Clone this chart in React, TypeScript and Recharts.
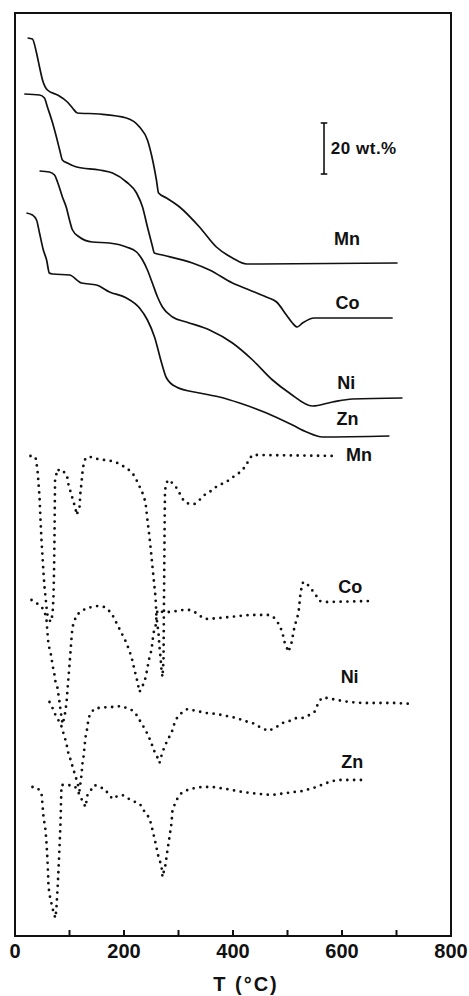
import React from 'react';
import {
  LineChart, Line, XAxis, YAxis, ReferenceArea, ReferenceDot, ReferenceLine,
} from 'recharts';

// temperature ticks (°C)
const tempTicks = [0, 100, 200, 300, 400, 500, 600, 700, 800];

// TG curves: temperature (°C) and vertical position (offset units, curves are stacked)
const mnTgT = [23, 32, 39.5, 45, 50.5, 59.5, 78, 96, 105.5, 114.5, 155, 204.5, 228.5, 243, 252.5, 259.5, 263.5, 278, 302, 338.5, 369.5, 399, 425, 702];
const mnTgV = [898, 897, 883, 869, 856, 846, 841, 834, 828, 823, 822, 818, 809, 796, 776, 756, 743, 738, 729, 709, 689, 678, 672, 673];

const coTgT = [17, 45, 54, 59.5, 69, 76, 82, 87, 96, 113, 155, 179, 204.5, 223, 234, 243, 252.5, 255.5, 270.5, 325.5, 357, 399, 430, 461, 480, 498, 509, 518, 527.5, 549.5, 693];
const coTgV = [842, 841, 838, 829, 813, 799, 786, 776, 773, 769, 766, 763, 754, 743, 729, 709, 689, 683, 681, 673, 666, 653, 646, 639, 634, 621, 613, 609, 613, 618, 618];

const niTgT = [45, 63, 72.5, 78, 87, 94.5, 100, 105.5, 118, 142, 173, 204.5, 223, 234, 243, 252, 261.5, 270.5, 289, 314.5, 357, 399, 436, 472.5, 503.5, 546, 582.5, 619, 711];
const niTgV = [765, 764, 761, 754, 739, 728, 716, 706, 699, 694, 693, 689, 684, 676, 666, 653, 639, 629, 619, 614, 606, 593, 576, 556, 543, 530, 534, 537, 538];

const znTgT = [21, 32, 39.5, 45, 52, 58, 63, 69, 100, 122, 149.5, 173.5, 204.5, 228.5, 243, 256, 269, 278, 296, 338.5, 375, 412, 461.5, 509, 535, 564, 687];
const znTgV = [723, 721, 716, 703, 686, 676, 663, 662, 661, 653, 651, 644, 638, 628, 616, 599, 573, 558, 549, 543, 539, 533, 523, 511, 504, 499, 500];

// DTG curves (dotted)
const mnDtgT = [28.4, 37.6, 39.4, 41.3, 43.1, 45, 46.8, 48.6, 50.5, 52.3, 54.1, 56, 57.8, 59.6, 65.1, 68.8, 70.6, 71.6, 72.4, 73, 73.5, 78, 85.3, 90.8, 96.3, 98.2, 103.7, 107.3, 111, 112.8, 118.3, 120, 122, 123.9, 125.7, 129.4, 140.4, 151.4, 164.2, 177, 188, 204.6, 215.6, 224.8, 233.9, 239.4, 243, 246.8, 250.5, 254.1, 257.8, 259.6, 263.3, 265.1, 267, 268.8, 270.6, 272.5, 273.4, 274.3, 275.2, 280, 289, 298, 305.5, 311, 320, 329.4, 338.5, 347.7, 357, 366, 375, 388, 397, 406.4, 415.6, 424.8, 428.4, 435.8, 448.6, 591.7];
const mnDtgV = [480, 479, 473, 466, 453, 439, 416, 396, 379, 363, 349, 339, 329, 321, 314, 321, 339, 363, 396, 429, 456, 467, 463, 464, 458, 451, 441, 434, 428, 421, 428, 443, 453, 464, 471, 478, 479, 477, 476, 475, 473, 468, 463, 454, 443, 434, 416, 399, 379, 359, 339, 319, 303, 289, 279, 266, 259, 276, 336, 396, 446, 456, 453, 447, 439, 434, 432, 432, 436, 441, 444, 448, 451, 454, 458, 461, 465, 471, 476, 481, 481, 480];

const coDtgT = [30.3, 39.4, 48.6, 54.1, 57.8, 59.6, 61.5, 65.1, 67, 68.8, 72.5, 74.3, 78, 79.8, 81.7, 83.5, 87.2, 90.8, 92.7, 94.5, 96.3, 98.2, 100, 101.8, 103.7, 105.5, 112.8, 131.2, 151.4, 164.2, 177, 186.2, 195.4, 204.6, 213.8, 219.3, 224.8, 228.4, 237.6, 241.3, 246.8, 250.5, 254.1, 257.8, 259.6, 261.5, 270.6, 283.5, 296.3, 307.3, 320.2, 329.4, 338.5, 344, 353.2, 375.2, 393.6, 411.9, 430.3, 467, 476.1, 485.3, 490.8, 494.5, 501.8, 507.3, 512.8, 520.2, 523.9, 527.5, 533, 540.4, 549.5, 558.7, 571.6, 656];
const coDtgV = [336, 333, 329, 325, 316, 303, 291, 284, 278, 271, 261, 254, 248, 241, 234, 226, 212, 219, 226, 233, 246, 259, 271, 284, 298, 309, 321, 328, 330, 329, 323, 313, 303, 293, 279, 266, 254, 244, 254, 263, 279, 286, 303, 309, 319, 326, 324, 324, 325, 326, 326, 324, 321, 318, 317, 318, 319, 320, 321, 321, 318, 311, 303, 294, 284, 293, 309, 323, 343, 353, 354, 349, 343, 335, 334, 335];

const niDtgT = [63.3, 68.8, 72.5, 78, 83.5, 87.2, 90.8, 94.5, 96.3, 100, 103.7, 105.5, 109.2, 114.7, 118.3, 122, 123.9, 125.7, 127.5, 129.4, 133, 134.9, 140.4, 147.7, 158.7, 169.7, 182.6, 195.4, 204.6, 213.8, 223, 228.4, 233.9, 241.3, 245, 250.5, 252.3, 259.6, 265.1, 270.6, 279.8, 287.2, 292.7, 298.2, 307.3, 316.5, 333, 351.4, 369.7, 388, 406.4, 421.1, 435.8, 452.3, 465.1, 479.8, 490.8, 503.7, 516.5, 527.5, 540.4, 549.5, 555, 562.4, 573.4, 589.9, 613.8, 637.6, 663.3, 700, 729.4];
const niDtgV = [234, 228, 223, 217, 213, 206, 199, 193, 186, 179, 174, 169, 163, 153, 145, 161, 173, 179, 189, 199, 209, 218, 224, 228, 228, 229, 229, 230, 228, 226, 221, 216, 211, 204, 199, 194, 188, 181, 173, 184, 196, 203, 213, 219, 224, 227, 225, 223, 222, 220, 218, 215, 213, 208, 205, 209, 213, 215, 218, 218, 221, 224, 231, 238, 238, 236, 234, 233, 233, 233, 232];

const znDtgT = [32.1, 41.3, 48.6, 50.5, 52.3, 56, 57.8, 59.6, 60.6, 61.5, 65.1, 68.8, 70.6, 74.3, 76.1, 78, 79.8, 81.7, 83.5, 84.4, 85.3, 96.3, 109.2, 114.7, 118.3, 123.9, 129.4, 133, 145.9, 155, 164.2, 171.6, 178.9, 188, 197.2, 206.4, 215.6, 226.6, 233.9, 237.6, 246.8, 252.3, 257.8, 263.3, 268.8, 270.6, 276.1, 279.8, 283.5, 287.2, 289, 296.3, 305.5, 320.2, 342.2, 362.4, 388, 417.4, 448.6, 472.5, 498.2, 527.5, 553.2, 571.6, 589.9, 613.8, 637.6];
const znDtgV = [149, 148, 143, 131, 119, 106, 93, 76, 63, 49, 36, 29, 23, 18, 29, 46, 66, 89, 113, 133, 151, 151, 150, 146, 141, 135, 129, 141, 151, 149, 147, 142, 137, 140, 141, 138, 135, 133, 129, 124, 118, 106, 93, 79, 70, 59, 71, 86, 99, 113, 126, 136, 143, 147, 149, 149, 147, 144, 142, 141, 143, 145, 149, 153, 156, 156, 156];

// curve labels
const labelText = ['Mn', 'Co', 'Ni', 'Zn', 'Mn', 'Co', 'Ni', 'Zn'];
const labelT = [609, 610, 608, 610, 631, 615, 614, 619];
const labelV = [697, 633, 553, 517, 481, 349, 259, 174];

// scale bar: 20 wt.%
const barT = 567;
const barBottom = 762;
const barTop = 813;

const rows = (t: number[], v: number[]) => t.map((x, i) => ({ t: x, v: v[i] }));

const tgSeries = [
  { name: 'Mn TG', data: rows(mnTgT, mnTgV) },
  { name: 'Co TG', data: rows(coTgT, coTgV) },
  { name: 'Ni TG', data: rows(niTgT, niTgV) },
  { name: 'Zn TG', data: rows(znTgT, znTgV) },
];
const dtgSeries = [
  { name: 'Mn DTG', data: rows(mnDtgT, mnDtgV) },
  { name: 'Co DTG', data: rows(coDtgT, coDtgV) },
  { name: 'Ni DTG', data: rows(niDtgT, niDtgV) },
  { name: 'Zn DTG', data: rows(znDtgT, znDtgV) },
];

const INK = '#111';
const FONT = '"Liberation Sans", Arial, Helvetica, sans-serif';

// inward tick marks every 100 °C, labels every 200 °C
const TempTick = (props: any) => {
  const { x, y, payload } = props;
  const show = payload.value % 200 === 0;
  return (
    <g>
      <line x1={x} x2={x} y1={y} y2={y - 6} stroke={INK} strokeWidth={2} />
      {show && (
        <text x={x} y={y + 22} textAnchor="middle" fontSize={20} fontWeight={700} fontFamily={FONT} fill={INK}>
          {payload.value}
        </text>
      )}
    </g>
  );
};

export default function App() {
  return (
    <div style={{ position: 'absolute', left: 0, top: 0, width: 469, height: 996, background: '#fff', overflow: 'hidden' }}>
      <LineChart width={469} height={996} margin={{ top: 13, right: 18, bottom: 0, left: 15 }}>
        <XAxis
          dataKey="t"
          type="number"
          domain={[0, 800]}
          ticks={tempTicks}
          interval={0}
          height={60}
          tickSize={0}
          tickMargin={0}
          tickLine={false}
          axisLine={false}
          tick={<TempTick />}
          allowDataOverflow
        />
        <YAxis type="number" domain={[0, 923]} hide allowDataOverflow />
        <ReferenceArea x1={0} x2={800} y1={0} y2={923} fill="none" stroke={INK} strokeWidth={2} />

        {tgSeries.map((s) => (
          <Line
            key={s.name}
            data={s.data}
            dataKey="v"
            name={s.name}
            type="monotone"
            stroke={INK}
            strokeWidth={1.7}
            dot={false}
            isAnimationActive={false}
          />
        ))}
        {dtgSeries.map((s) => (
          <Line
            key={s.name}
            data={s.data}
            dataKey="v"
            name={s.name}
            type="linear"
            stroke={INK}
            strokeWidth={2.8}
            strokeDasharray="0 6.8"
            strokeLinecap="round"
            dot={false}
            isAnimationActive={false}
          />
        ))}

        <ReferenceLine segment={[{ x: barT, y: barBottom }, { x: barT, y: barTop }]} stroke={INK} strokeWidth={1.6} />
        <ReferenceLine segment={[{ x: barT - 6, y: barTop }, { x: barT + 6, y: barTop }]} stroke={INK} strokeWidth={1.6} />
        <ReferenceLine segment={[{ x: barT - 6, y: barBottom }, { x: barT + 6, y: barBottom }]} stroke={INK} strokeWidth={1.6} />
        <ReferenceDot
          x={640}
          y={788}
          r={0}
          fill="none"
          stroke="none"
          label={{ value: '20 wt.%', position: 'center', fontSize: 17, fontWeight: 700, fontFamily: FONT, fill: INK, letterSpacing: 0.5 }}
        />

        {labelText.map((txt, i) => (
          <ReferenceDot
            key={`${txt}-${i}`}
            x={labelT[i]}
            y={labelV[i]}
            r={0}
            fill="none"
            stroke="none"
            label={{ value: txt, position: 'center', fontSize: 18, fontWeight: 700, fontFamily: FONT, fill: INK }}
          />
        ))}
      </LineChart>
      <div
        style={{
          position: 'absolute',
          left: 246,
          top: 974,
          transform: 'translateX(-50%)',
          fontFamily: FONT,
          fontWeight: 700,
          fontSize: 20,
          lineHeight: '20px',
          letterSpacing: 2,
          color: INK,
          whiteSpace: 'nowrap',
        }}
      >
        T (°C)
      </div>
    </div>
  );
}
